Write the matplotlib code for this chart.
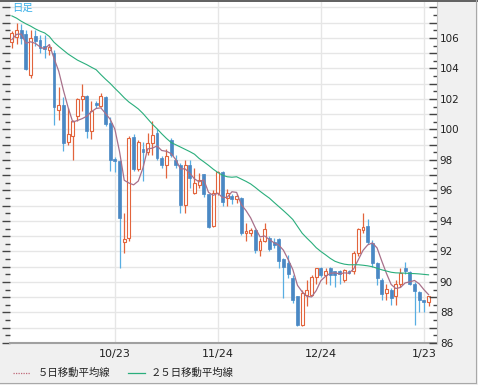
import numpy as np
import pandas as pd
import matplotlib
matplotlib.use("Agg")
import matplotlib.pyplot as plt
from matplotlib.lines import Line2D

# daily candles (weekdays 2008-09-23 .. 2009-01-26)
dates = pd.bdate_range("2008-09-23", "2009-01-26")

opens = [105.75, 106.07, 106.5, 106.25, 103.6, 106.1, 105.9, 105.5, 105.2, 105.0,
         101.3, 101.6, 99.15, 99.6, 100.9, 102.0, 102.2, 99.9, 101.75, 101.55,
         102.1, 100.4, 98.05, 97.95, 92.6, 92.9, 99.5, 97.4, 98.7, 98.55,
         99.13, 99.78, 98.14, 97.7, 99.34, 98.03, 97.7, 95.08, 97.7, 95.85,
         96.39, 97.05, 95.74, 93.66, 95.85, 97.22, 95.52, 95.63, 95.41, 95.52,
         93.22, 93.22, 93.44, 92.13, 92.7, 92.9, 92.6, 92.85, 91.48, 91.25,
         90.26, 89.05, 87.2, 89.16, 89.16, 90.3, 90.9, 90.47, 90.9, 90.7,
         90.7, 90.15, 90.7, 90.7, 91.9, 93.4, 93.7, 92.55, 91.24, 90.15,
         89.3, 89.5, 89.1, 89.85, 90.9, 90.65, 89.9, 89.35, 88.8, 88.7]
highs = [106.45, 107.0, 106.9, 106.5, 106.5, 106.5, 106.2, 106.2, 105.6, 105.2,
         102.8, 102.1, 101.4, 100.6, 102.08, 103.0, 102.25, 101.86, 101.85, 102.4,
         102.2, 100.8, 98.2, 98.0, 94.5, 99.6, 99.7, 99.3, 99.2, 99.8,
         100.55, 100.0, 98.25, 98.69, 99.45, 98.36, 97.8, 98.03, 98.03, 97.49,
         97.16, 97.1, 95.8, 96.0, 97.3, 97.3, 96.07, 95.74, 95.74, 95.6,
         93.88, 93.55, 93.5, 92.9, 93.9, 93.0, 92.9, 92.9, 91.6, 91.8,
         90.47, 89.1, 89.5, 90.15, 90.47, 90.9, 91.0, 90.9, 91.0, 90.7,
         90.8, 90.85, 90.8, 92.0, 93.54, 94.5, 94.1, 92.77, 91.3, 90.26,
         89.9, 89.6, 90.15, 90.9, 91.3, 90.7, 90.0, 89.4, 88.85, 89.1]
lows = [105.35, 105.6, 105.6, 103.9, 103.4, 105.5, 105.0, 104.7, 104.9, 100.3,
        100.6, 98.6, 99.0, 97.97, 100.55, 101.2, 99.45, 99.35, 101.4, 101.5,
        100.2, 97.3, 97.2, 90.95, 91.9, 92.7, 97.3, 97.3, 96.6, 98.3,
        98.36, 98.0, 97.5, 96.83, 98.2, 97.5, 94.54, 94.54, 96.17, 95.8,
        96.17, 95.6, 93.55, 93.6, 95.7, 94.97, 94.97, 95.1, 95.2, 93.1,
        92.68, 93.0, 91.9, 91.7, 92.6, 92.0, 92.2, 90.9, 88.96, 90.27,
        88.6, 87.1, 87.1, 88.4, 89.05, 89.9, 90.3, 89.9, 89.8, 89.7,
        89.9, 90.0, 90.5, 90.5, 91.68, 93.2, 92.5, 91.0, 89.8, 88.84,
        88.84, 88.5, 88.5, 89.7, 90.5, 89.8, 87.2, 88.0, 88.0, 88.4]
closes = [106.3, 106.5, 106.0, 103.95, 106.0, 105.8, 105.35, 105.3, 105.4, 101.5,
          101.6, 99.1, 99.7, 100.55, 102.0, 102.2, 99.9, 101.2, 101.6, 102.2,
          100.35, 98.0, 97.95, 94.2, 92.85, 99.45, 97.4, 99.2, 98.5, 99.1,
          99.67, 98.14, 97.7, 98.25, 98.36, 97.7, 95.08, 97.7, 96.83, 96.5,
          96.72, 95.74, 93.6, 95.85, 97.22, 95.26, 95.85, 95.41, 95.63, 93.22,
          93.33, 93.44, 92.13, 92.68, 93.5, 92.15, 92.4, 91.4, 90.97, 90.5,
          88.84, 87.2, 89.27, 89.5, 90.3, 90.9, 90.47, 90.7, 90.47, 90.47,
          90.55, 90.8, 90.6, 91.9, 93.47, 93.6, 92.6, 91.24, 90.26, 89.2,
          89.55, 88.95, 89.9, 90.6, 90.7, 89.9, 89.4, 88.8, 88.7, 89.05]
prior_closes = [104.8, 105.9, 107.0, 105.5]

ma25 = [107.45, 107.3, 107.1, 106.93, 106.78, 106.6, 106.45, 106.33, 106.1, 105.72,
        105.45, 105.2, 104.95, 104.75, 104.55, 104.4, 104.25, 104.08, 103.92, 103.6,
        103.3, 103.02, 102.7, 102.4, 102.08, 101.8, 101.58, 101.35, 101.05, 100.7,
        100.35, 100.05, 99.72, 99.42, 99.15, 99.0, 98.85, 98.7, 98.55, 98.38,
        98.1, 97.88, 97.65, 97.4, 97.18, 97.0, 96.9, 96.87, 96.9, 96.75,
        96.6, 96.43, 96.2, 95.95, 95.72, 95.5, 95.22, 94.95, 94.68, 94.4,
        94.1, 93.65, 93.2, 92.88, 92.58, 92.25, 92.0, 91.78, 91.55, 91.36,
        91.25, 91.17, 91.13, 91.13, 91.13, 91.1, 91.06, 91.0, 90.9, 90.8,
        90.72, 90.64, 90.6, 90.59, 90.58, 90.56, 90.55, 90.53, 90.5, 90.47]

tick_dates = ["2008-10-23", "2008-11-24", "2008-12-24", "2009-01-23"]
tick_labels = ["10/23", "11/24", "12/24", "1/23"]
legend_labels = ["５日移動平均線", "２５日移動平均線"]

up_col = "#e2643c"
dn_col = "#4a88c4"
dn_wick = "#58aee2"
ma5_col = "#a8708a"
ma25_col = "#2aae7c"
grid_col = "#e6e6e6"

W, H = 478, 385
fig = plt.figure(figsize=(W / 100, H / 100), dpi=100, facecolor="#f0f0f0")
ax = fig.add_axes([10 / W, 1 - 343 / H, (437 - 10) / W, (343 - 2) / H])
ax.set_facecolor("white")

x = np.arange(len(dates))
o = np.array(opens); h = np.array(highs); l = np.array(lows); c = np.array(closes)
up = c >= o

ma5 = pd.Series(prior_closes + closes).rolling(5).mean().values[4:]

# grid
for v in range(86, 109):
    ax.axhline(v, color=grid_col, lw=1, zorder=0)
tick_pos = [dates.get_loc(pd.Timestamp(d)) for d in tick_dates]
for p in tick_pos:
    ax.axvline(p, color=grid_col, lw=1, zorder=0)

# candles
ax.vlines(x[up], l[up], h[up], color=up_col, lw=0.9, zorder=2)
ax.vlines(x[~up], l[~up], h[~up], color=dn_wick, lw=0.9, zorder=2)
ax.bar(x[up], c[up] - o[up], bottom=o[up], width=0.62, facecolor="white",
       edgecolor=up_col, lw=0.8, zorder=3)
ax.bar(x[~up], o[~up] - c[~up], bottom=c[~up], width=0.62, facecolor=dn_col,
       edgecolor=dn_col, lw=0.5, zorder=3)

ax.plot(x, ma5, color=ma5_col, lw=0.9, zorder=4)
ax.plot(x, ma25, color=ma25_col, lw=0.8, zorder=4)

ax.set_xlim(-0.4, 90.8)
ax.set_ylim(86, 108.36)
ax.set_xticks(tick_pos)
ax.set_xticklabels(tick_labels, fontsize=8, color="#222222")
ax.tick_params(axis="x", length=0, pad=4)

ax.set_yticks(np.arange(86, 109, 1))
ax.set_yticks(np.arange(86.5, 108.5, 1), minor=True)
ax.tick_params(axis="y", which="major", direction="out", length=6, width=1,
               color="#444444", labelleft=False)
ax.tick_params(axis="y", which="minor", direction="out", length=3.5, width=1,
               color="#444444")

for s in ["top", "left", "right"]:
    ax.spines[s].set_visible(False)
ax.spines["bottom"].set_color("#a0a0a0")
ax.spines["bottom"].set_linewidth(1.5)

ax2 = ax.twinx()
ax2.set_ylim(86, 108.36)
ax2.set_yticks(np.arange(86, 109, 1))
ax2.set_yticklabels([str(v) if v % 2 == 0 and v < 108 else "" for v in range(86, 109)],
                    fontsize=7.5, color="#222222")
ax2.set_yticks(np.arange(86.5, 108.5, 1), minor=True)
ax2.tick_params(axis="y", which="major", direction="in", length=6, width=1,
                color="#444444", pad=2)
ax2.tick_params(axis="y", which="minor", direction="in", length=3, width=1,
                color="#444444")
for s in ["top", "left", "bottom"]:
    ax2.spines[s].set_visible(False)
ax2.spines["right"].set_color("#c8c8c8")

ax.text(0.006, 0.997, "日足", transform=ax.transAxes, ha="left", va="top",
        fontsize=7.5, color="#3ab0e8", family=["Noto Sans CJK JP"], zorder=6)

# legend
ly = 1 - 373 / H
fig.add_artist(Line2D([13 / W, 30 / W], [ly, ly], color="#c06878", lw=0.9, ls=(0, (1, 1))))
fig.text(38 / W, ly, legend_labels[0], fontsize=7.5, va="center", ha="left",
         color="#222222", family=["Noto Sans CJK JP"])
fig.add_artist(Line2D([128 / W, 145 / W], [ly, ly], color=ma25_col, lw=0.9))
fig.text(151 / W, ly, legend_labels[1], fontsize=7.5, va="center", ha="left",
         color="#222222", family=["Noto Sans CJK JP"])

# frame
fig.add_artist(Line2D([0, 1], [1 - 0.8 / H, 1 - 0.8 / H], color="#606060", lw=1.4))
fig.add_artist(Line2D([475.5 / W, 475.5 / W], [1 - 383 / H, 1], color="#a8a8a8", lw=0.8))
fig.add_artist(Line2D([0, 475.5 / W], [1 - 383 / H, 1 - 383 / H], color="#a8a8a8", lw=0.8))

fig.savefig("out.png", dpi=100, facecolor=fig.get_facecolor())
